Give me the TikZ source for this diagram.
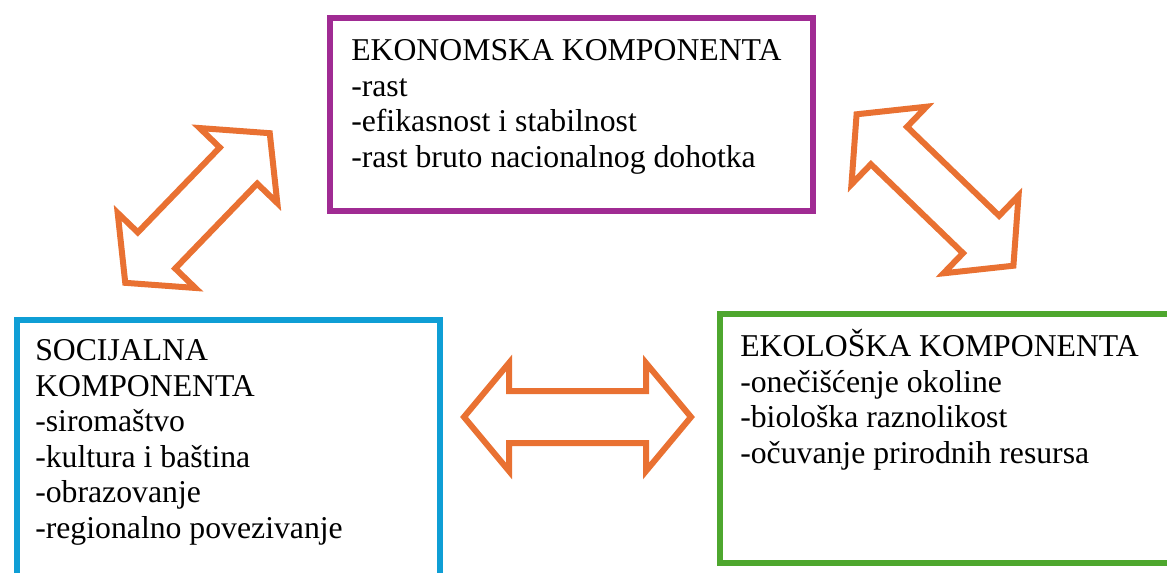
\documentclass[tikz,border=0pt]{standalone}
\usepackage{fontspec}
\setmainfont{Liberation Serif}
\usetikzlibrary{positioning}
\definecolor{ekopurple}{HTML}{A02B93}
\definecolor{socblue}{HTML}{0F9ED5}
\definecolor{ekogreen}{HTML}{4EA72E}
\definecolor{arrorange}{HTML}{E97132}

% hollow two-headed block arrow: centre, angle, half length
\newcommand{\dblarrow}[3]{%
  \draw[blockarrow, shift={(#1)}, rotate=#2]
    (-#3,0) -- (-#3+45,-54) -- (-#3+45,-26) -- (#3-45,-26) -- (#3-45,-54)
    -- (#3,0) -- (#3-45,54) -- (#3-45,26) -- (-#3+45,26) -- (-#3+45,54) -- cycle;}

\begin{document}
\begin{tikzpicture}[x=0.75pt, y=-0.75pt,
    box/.style={rectangle, draw=#1, line width=4.5pt, inner sep=0pt, anchor=north west},
    txt/.style={anchor=base west, align=left, inner sep=0pt, font=\fontsize{23.8pt}{26.6pt}\selectfont},
    blockarrow/.style={draw=arrorange, line width=4.5pt, fill=white, line join=miter}
]
    \clip (0,0) rectangle (1167,572);

    \node[box=ekopurple, minimum width=362.25pt, minimum height=144.75pt] (ekon) at (327,15) {};
    \node[box=socblue, minimum width=317.25pt, minimum height=197.6pt] (soc) at (13.5,316.5) {};
    \node[box=ekogreen, minimum width=343.9pt, minimum height=186.75pt] (ekol) at (716.5,311) {};

    % base of a multi-line node is its last line
    \node[txt] (ekontext) at ([shift={(24,152)}]ekon.north west)
        {EKONOMSKA KOMPONENTA\\-rast\\-efikasnost i stabilnost\\-rast bruto nacionalnog dohotka};
    \node[txt] (soctext) at ([shift={(21.5,221.5)}]soc.north west)
        {SOCIJALNA\\KOMPONENTA\\-siromaštvo\\-kultura i baština\\-obrazovanje\\-regionalno povezivanje};
    \node[txt] (ekoltext) at ([shift={(23.5,152)}]ekol.north west)
        {EKOLOŠKA KOMPONENTA\\-onečišćenje okoline\\-biološka raznolikost\\-očuvanje prirodnih resursa};

    \coordinate (socekon) at (197.5,208);
    \coordinate (ekonekol) at (935,190);
    \coordinate (socekol) at (577.5,417);

    \dblarrow{socekon}{46}{104}
    \dblarrow{ekonekol}{-44}{109}
    \dblarrow{socekol}{0}{113.5}
\end{tikzpicture}
\end{document}
